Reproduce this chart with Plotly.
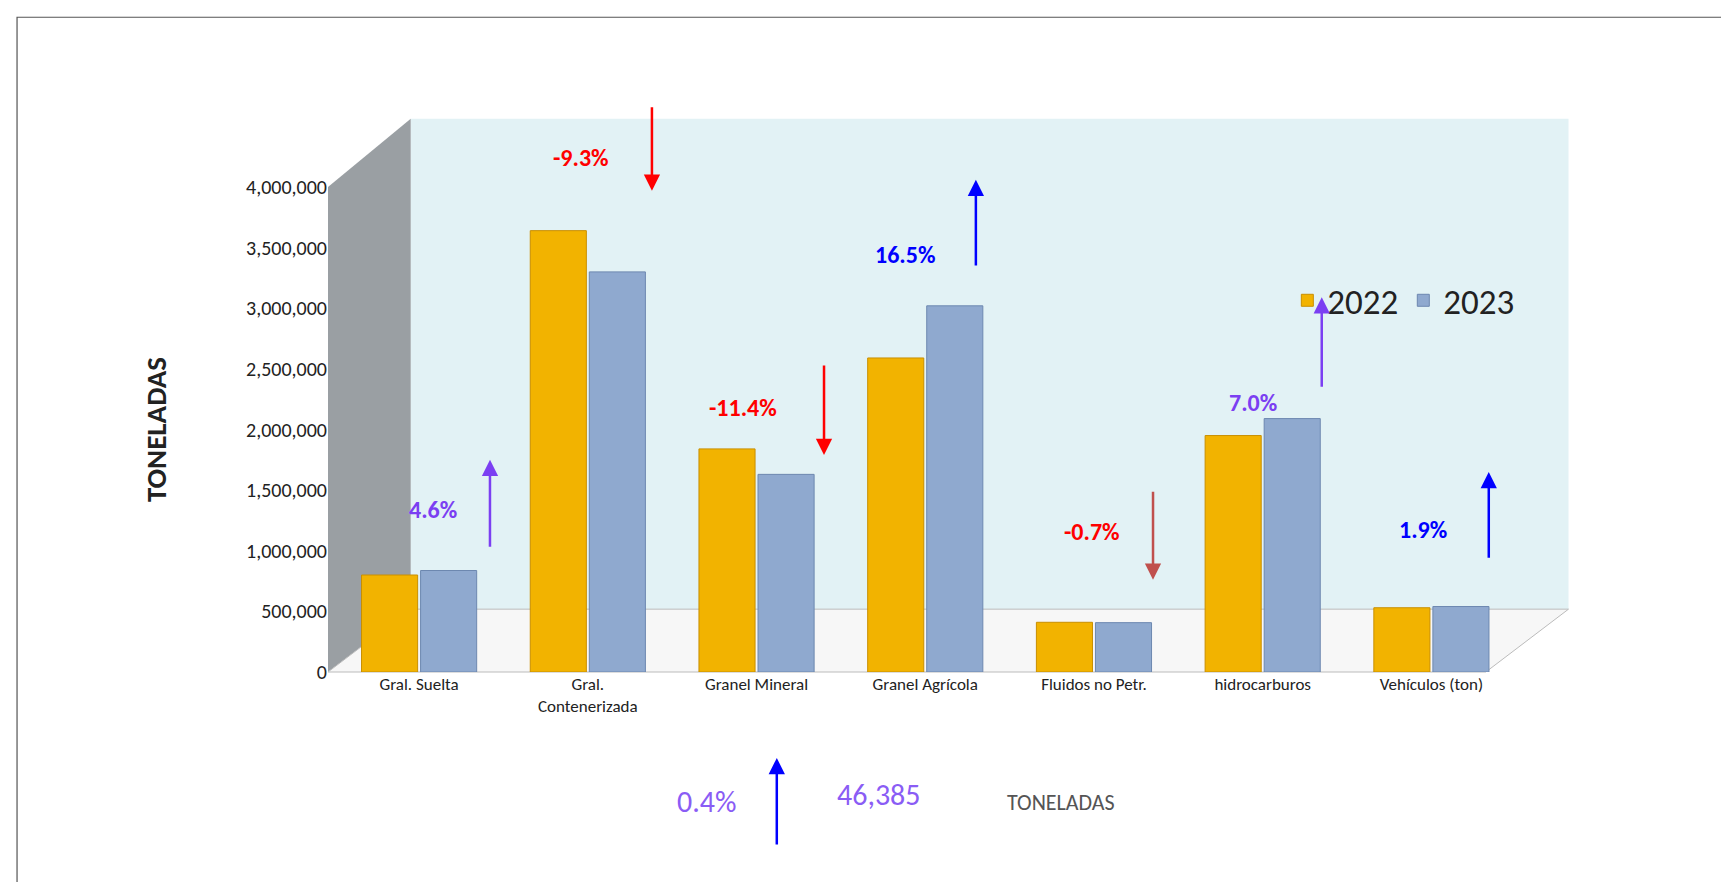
import plotly.graph_objects as go

categorias = ["Gral. Suelta", "Gral.<br>Contenerizada", "Granel Mineral", "Granel Agrícola",
              "Fluidos no Petr.", "hidrocarburos", "Vehículos (ton)"]
v2022 = [800000, 3640000, 1840000, 2590000, 410000, 1950000, 530000]
v2023 = [837000, 3300000, 1630000, 3020000, 407000, 2090000, 540000]
variacion = ["4.6%", "-9.3%", "-11.4%", "16.5%", "-0.7%", "7.0%", "1.9%"]

x = list(range(len(categorias)))

fig = go.Figure()
fig.add_bar(x=x, y=v2022, name="2022", marker_color="#F2B300",
            marker_line_color="#c98f00", marker_line_width=1)
fig.add_bar(x=x, y=v2023, name="2023", marker_color="#8FA9CF",
            marker_line_color="#6d88b0", marker_line_width=1)

# posiciones de flechas y etiquetas (x, y_inicio, y_fin, x_etiqueta, y_etiqueta, color)
flechas = [
    (0.42, 1.02e6, 1.75e6, 0.08, 1.34e6, "#7b3ff2"),
    (1.38, 4.67e6, 3.97e6, 0.96, 4.38e6, "#ff0000"),
    (2.40, 2.54e6, 1.79e6, 1.92, 2.18e6, "#ff0000"),
    (3.30, 3.34e6, 4.06e6, 2.88, 3.58e6, "#0000ff"),
    (4.35, 1.50e6, 0.76e6, 3.99, 1.02e6, "#c0504d"),
    (5.35, 2.34e6, 3.09e6, 4.94, 2.22e6, "#7b3ff2"),
    (6.34, 0.93e6, 1.65e6, 5.95, 1.04e6, "#0000ff"),
]
for (ax_, y0, y1, lx, ly, col), txt in zip(flechas, variacion):
    fig.add_annotation(x=ax_, y=y1, ax=ax_, ay=y0, xref="x", yref="y", axref="x", ayref="y",
                       text="", showarrow=True, arrowhead=2, arrowsize=1.3, arrowwidth=2.5,
                       arrowcolor=col)
    lcol = "#ff0000" if txt.startswith("-") else col
    fig.add_annotation(x=lx, y=ly / 4e6, xref="x", yref="paper", text="<b>%s</b>" % txt,
                       showarrow=False,
                       font=dict(size=24, color=lcol, family="Calibri, Carlito, Liberation Sans"))

# textos inferiores
def px_(p):
    return (p - 290) / 1120
def py_(p):
    return (602 - p) / 440

fig.add_annotation(x=px_(605), y=py_(738), xref="paper", yref="paper", text="0.4%",
                   showarrow=False, font=dict(size=30, color="#8a5cf5"))
fig.add_annotation(x=px_(697), y=py_(680), xref="paper", yref="paper", ax=0, ay=88, text="",
                   showarrow=True, arrowhead=2, arrowsize=1.3, arrowwidth=2.5, arrowcolor="#0000ff")
fig.add_annotation(x=px_(790), y=py_(732), xref="paper", yref="paper", text="46,385",
                   showarrow=False, font=dict(size=30, color="#8a5cf5"))
fig.add_annotation(x=px_(955), y=py_(734), xref="paper", yref="paper", text="TONELADAS",
                   showarrow=False, font=dict(size=22, color="#555555"))

# paredes 3D
fig.add_shape(type="rect", xref="paper", yref="paper", x0=px_(365), x1=px_(1415),
              y0=py_(545), y1=py_(100), fillcolor="#e2f2f5", line_width=0, layer="below")
fig.add_shape(type="path", xref="paper", yref="paper", layer="below",
              path="M %f,%f L %f,%f L %f,%f L %f,%f Z" % (px_(290), py_(162), px_(365), py_(100),
                                                     px_(365), py_(545), px_(290), py_(602)),
              fillcolor="#9a9fa3", line_width=0)
fig.add_shape(type="path", xref="paper", yref="paper", layer="below",
              path="M %f,%f L %f,%f L %f,%f L %f,%f Z" % (px_(290), py_(602), px_(365), py_(545),
                                                     px_(1415), py_(545), px_(1340), py_(602)),
              fillcolor="#f7f7f7", line=dict(color="#bbbbbb", width=1))
# marco
fig.add_shape(type="rect", xref="paper", yref="paper", x0=px_(8), x1=px_(1562),
              y0=py_(795), y1=py_(8), line=dict(color="#555555", width=1.2))

fig.update_layout(
    width=1729, height=882,
    margin=dict(l=320, r=174, t=179, b=218),
    paper_bgcolor="white", plot_bgcolor="rgba(0,0,0,0)",
    barmode="group", bargap=0.3, bargroupgap=0.05,
    font=dict(family="Calibri, Carlito, Liberation Sans, Arial", color="#222"),
    legend=dict(x=px_(1160), y=py_(265), yanchor="middle", orientation="h",
                font=dict(size=35), bgcolor="rgba(0,0,0,0)"),
    xaxis=dict(tickvals=x, ticktext=categorias, range=[-0.54, 6.78], showgrid=False,
               tickfont=dict(size=17), ticks=""),
    yaxis=dict(range=[0, 4000000], dtick=500000, tickformat=",", showgrid=False,
               tickfont=dict(size=20), zeroline=False,
               title=dict(text="<b>TONELADAS</b>", font=dict(size=29), standoff=70)),
)

fig.write_html("out.html")
